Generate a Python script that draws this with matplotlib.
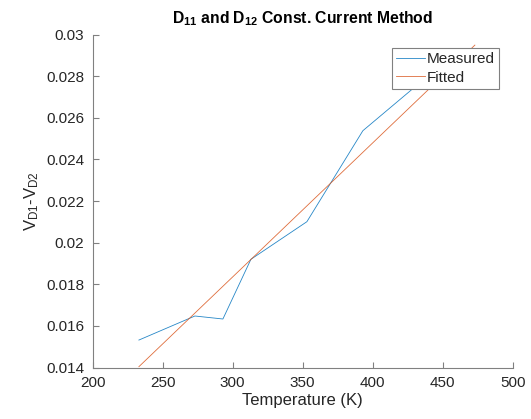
import matplotlib
matplotlib.use("Agg")
import matplotlib.pyplot as plt

temps = [233, 273, 293, 313, 353, 393, 433, 473]
measured = [0.01532, 0.016476, 0.016332, 0.019202, 0.02101, 0.025385, 0.02765, 0.0292]
fit_temps = [233, 473]
fitted = [0.01404, 0.0295]

xticks = [200, 250, 300, 350, 400, 450, 500]
yticks = [0.014, 0.016, 0.018, 0.02, 0.022, 0.024, 0.026, 0.028, 0.03]
ytick_labels = ["0.014", "0.016", "0.018", "0.02", "0.022", "0.024", "0.026", "0.028", "0.03"]

plt.rcParams['font.family'] = ['Liberation Sans', 'DejaVu Sans']
plt.rcParams['mathtext.fontset'] = 'custom'
plt.rcParams['mathtext.rm'] = 'Liberation Sans'
plt.rcParams['mathtext.bf'] = 'Liberation Sans:bold'
plt.rcParams['mathtext.it'] = 'Liberation Sans:italic'

fig = plt.figure(figsize=(5.31, 4.19), dpi=100)
ax = fig.add_axes([0.1746, 0.1229, 0.9655 - 0.1746, 0.9172 - 0.1229])

ax.plot(temps, measured, color='#0072BD', lw=0.6, label='Measured', alpha=0.85)
ax.plot(fit_temps, fitted, color='#D95319', lw=0.6, label='Fitted', alpha=0.85)

ax.set_xlim(200, 500)
ax.set_ylim(0.014, 0.03)
ax.set_xticks(xticks)
ax.set_yticks(yticks)
ax.set_yticklabels(ytick_labels)

axcol = '#262626'
for s in ['top', 'right']:
    ax.spines[s].set_visible(False)
for s in ['left', 'bottom']:
    ax.spines[s].set_color('#808080')
    ax.spines[s].set_linewidth(0.8)
ax.tick_params(direction='in', length=4, width=0.8, color='#808080',
               labelsize=11, labelcolor=axcol, pad=6)

ax.set_xlabel('Temperature (K)', fontsize=12, color=axcol, labelpad=2)
ax.set_ylabel(r'V$_{\mathregular{D1}}$-V$_{\mathregular{D2}}$', fontsize=12, color=axcol, labelpad=4)
ax.set_title(r'D$_{\mathbf{11}}$ and D$_{\mathbf{12}}$ Const. Current Method',
             fontsize=11.3, fontweight='bold', color='black', pad=8)

leg = ax.legend(loc='upper right', fontsize=11, frameon=True, fancybox=False,
                borderpad=0.25, handlelength=1.9, handletextpad=0.15,
                labelspacing=0.3, borderaxespad=0.9, framealpha=1)
leg.get_frame().set_edgecolor('#808080')
leg.get_frame().set_linewidth(0.8)
for t in leg.get_texts():
    t.set_color(axcol)

fig.savefig('out.png', dpi=100)
